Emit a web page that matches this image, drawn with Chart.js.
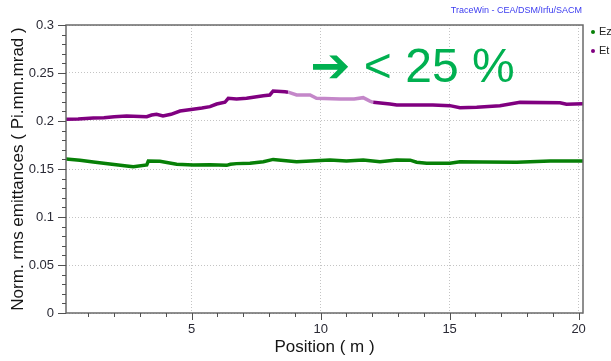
<!DOCTYPE html>
<html>
<head>
<meta charset="utf-8">
<script src="https://cdn.jsdelivr.net/npm/chart.js@4.4.1/dist/chart.umd.min.js"></script>
<style>
  html, body { margin: 0; padding: 0; background: #ffffff; }
  #wrap { width: 611px; height: 361px; }
</style>
</head>
<body>
<div id="wrap"><canvas id="c" width="611" height="361"></canvas></div>
<script>
// Normalised rms emittances along the line (Pi.mm.mrad) versus position (m)
const etPos = [0.13, 0.6, 1.19, 1.6, 2.0, 2.48, 3.26, 3.45, 3.64, 3.89, 4.2, 4.55, 5.05, 5.4, 5.71, 5.97, 6.29, 6.42, 6.74, 7.13, 7.52, 7.78, 8.03, 8.16, 8.62, 8.74, 9.07, 9.59, 9.84, 10.75, 11.3, 11.65, 11.91, 12.04, 12.69, 12.95, 13.47, 14.35, 15.01, 15.4, 16.05, 16.95, 17.73, 19.28, 19.53, 20.17];
const etVal = [0.2018, 0.2022, 0.2031, 0.2035, 0.2045, 0.2052, 0.2045, 0.2062, 0.2070, 0.2052, 0.2070, 0.2104, 0.2122, 0.2135, 0.2150, 0.2177, 0.2195, 0.2236, 0.2230, 0.2236, 0.2253, 0.2264, 0.2271, 0.2313, 0.2305, 0.2300, 0.2271, 0.2271, 0.2236, 0.2229, 0.2229, 0.2243, 0.2208, 0.2195, 0.2177, 0.2167, 0.2167, 0.2167, 0.2160, 0.2139, 0.2142, 0.2160, 0.2194, 0.2190, 0.2174, 0.2180];

const ezPos = [0.13, 0.67, 1.19, 1.83, 2.48, 2.74, 3.26, 3.32, 3.77, 4.42, 5.06, 5.71, 6.36, 6.5, 6.74, 7.26, 7.78, 8.16, 9.07, 10.36, 11.0, 11.65, 12.3, 12.95, 13.47, 13.72, 14.11, 15.01, 15.4, 16.29, 17.6, 18.9, 20.17];
const ezVal = [0.1604, 0.1590, 0.1573, 0.1552, 0.1531, 0.1524, 0.1542, 0.1583, 0.1580, 0.1550, 0.1542, 0.1545, 0.1538, 0.1549, 0.1556, 0.1560, 0.1576, 0.1600, 0.1576, 0.1594, 0.1583, 0.1594, 0.1576, 0.1594, 0.1592, 0.1570, 0.1560, 0.1560, 0.1576, 0.1573, 0.1570, 0.1583, 0.1583];

// Stretch of the Et curve shown in a lighter shade
const etHighlight = [8.74, 12.04];

const xMajorTicks = [5, 10, 15, 20];
const yMajorTicks = [0, 0.05, 0.1, 0.15, 0.2, 0.25, 0.3];
const X_MINOR_STEP = 1;
const Y_MINOR_STEP = 0.01;

// Callout text and its anchor in data coordinates
const calloutText = '\u2794 < 25 %';
const calloutAt = { x: 9.6, y: 0.2406 };

const FONT = "'Liberation Sans', 'DejaVu Sans', sans-serif";
const TEXT_COLOR = '#2a2a35';
const GRID_COLOR = '#c4c4c4';
const TICK_COLOR = '#505050';
const ET_DARK = '#800080';
const ET_LIGHT = '#c487c9';
const EZ_GREEN = '#078007';

const toPoints = (xs, ys) => xs.map((v, i) => ({ x: v, y: ys[i] }));

const decor = {
  id: 'decor',
  afterDatasetsDraw(chart) {
    const { ctx, chartArea: a, scales: { x, y } } = chart;
    ctx.save();
    // plot frame
    ctx.strokeStyle = '#6a6a6a';
    ctx.lineWidth = 1.5;
    ctx.strokeRect(a.left, a.top, a.right - a.left, a.bottom - a.top);
    // tick marks (major and minor)
    ctx.strokeStyle = TICK_COLOR;
    ctx.lineWidth = 1;
    for (let i = Math.ceil(x.min / X_MINOR_STEP); i * X_MINOR_STEP <= x.max; i++) {
      const v = i * X_MINOR_STEP;
      const px = Math.round(x.getPixelForValue(v)) + 0.5;
      const major = xMajorTicks.includes(v);
      ctx.beginPath();
      ctx.moveTo(px, a.bottom);
      ctx.lineTo(px, a.bottom + (major ? 7 : 4));
      ctx.stroke();
    }
    for (let i = 0; i * Y_MINOR_STEP <= y.max + 1e-9; i++) {
      const v = Math.round(i * Y_MINOR_STEP * 100) / 100;
      const py = Math.round(y.getPixelForValue(v)) + 0.5;
      const major = yMajorTicks.includes(v);
      ctx.beginPath();
      ctx.moveTo(a.left, py);
      ctx.lineTo(a.left - (major ? 8 : 4), py);
      ctx.stroke();
    }
    ctx.restore();
  },
  afterDraw(chart) {
    const { ctx, chartArea: a, scales: { x, y } } = chart;
    ctx.save();
    // header
    ctx.fillStyle = '#3c3cf0';
    ctx.font = '9px ' + FONT;
    ctx.textAlign = 'right';
    ctx.textBaseline = 'middle';
    ctx.fillText('TraceWin - CEA/DSM/Irfu/SACM', a.right - 1, 11);
    // legend
    ctx.textAlign = 'left';
    ctx.font = '11px ' + FONT;
    chart.data.datasets.forEach((ds, i) => {
      const cy = 32 + i * 19;
      ctx.fillStyle = ds.borderColor;
      ctx.beginPath();
      ctx.arc(a.right + 10, cy, 2, 0, Math.PI * 2);
      ctx.fill();
      ctx.fillStyle = '#222222';
      ctx.fillText(ds.label, a.right + 16, cy);
    });
    // callout
    ctx.fillStyle = '#00b050';
    ctx.font = '48px ' + FONT;
    ctx.textBaseline = 'alphabetic';
    ctx.fillText(calloutText, x.getPixelForValue(calloutAt.x), y.getPixelForValue(calloutAt.y));
    ctx.restore();
  }
};

new Chart(document.getElementById('c'), {
  type: 'line',
  data: {
    datasets: [
      {
        label: 'Ez',
        data: toPoints(ezPos, ezVal),
        borderColor: EZ_GREEN,
        backgroundColor: EZ_GREEN,
        borderWidth: 3.5,
        pointRadius: 0,
        tension: 0
      },
      {
        label: 'Et',
        data: toPoints(etPos, etVal),
        borderColor: ET_DARK,
        backgroundColor: ET_DARK,
        borderWidth: 3.5,
        pointRadius: 0,
        tension: 0,
        segment: {
          borderColor: c => (c.p0.parsed.x >= etHighlight[0] - 1e-9 && c.p1.parsed.x <= etHighlight[1] + 1e-9) ? ET_LIGHT : ET_DARK
        }
      }
    ]
  },
  options: {
    responsive: false,
    devicePixelRatio: 1,
    animation: false,
    layout: { padding: { top: 25, right: 28, left: 0, bottom: 0 } },
    plugins: { legend: { display: false }, tooltip: { enabled: false }, title: { display: false } },
    scales: {
      x: {
        type: 'linear',
        min: 0.13,
        max: 20.17,
        afterFit: s => { s.height = 48; },
        afterBuildTicks: s => { s.ticks = xMajorTicks.map(v => ({ value: v })); },
        ticks: { autoSkip: false, maxRotation: 0, padding: 9, color: TEXT_COLOR, font: { family: FONT, size: 13 }, callback: v => String(v) },
        grid: { drawTicks: false, color: GRID_COLOR, lineWidth: 1 },
        border: { display: false, dash: [1, 2] },
        title: { display: true, text: 'Position ( m )', color: '#151515', font: { family: FONT, size: 17 }, padding: { top: 0, bottom: 3 } }
      },
      y: {
        type: 'linear',
        min: 0,
        max: 0.3,
        afterFit: s => { s.width = 66; },
        afterBuildTicks: s => { s.ticks = yMajorTicks.map(v => ({ value: v })); },
        ticks: { autoSkip: false, padding: 12, color: TEXT_COLOR, font: { family: FONT, size: 13 }, callback: v => String(v) },
        grid: { drawTicks: false, color: GRID_COLOR, lineWidth: 1 },
        border: { display: false, dash: [1, 2] },
        title: { display: true, text: 'Norm. rms emittances ( Pi.mm.mrad )', color: '#151515', font: { family: FONT, size: 17 }, padding: { top: 8, bottom: 0 } }
      }
    }
  },
  plugins: [decor]
});
</script>
</body>
</html>
